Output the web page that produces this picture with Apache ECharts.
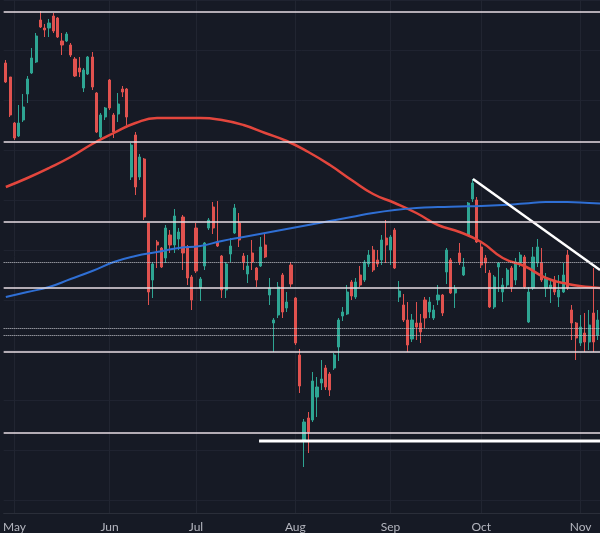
<!DOCTYPE html>
<html>
<head>
<meta charset="utf-8">
<script src="https://cdn.jsdelivr.net/npm/echarts/dist/echarts.min.js"></script>
<style>
  html, body { margin: 0; padding: 0; background: #161a25; }
  #chart { width: 600px; height: 533px; }
</style>
</head>
<body>
<div id="chart"></div>
<script>
// daily candles, Apr 29 .. Nov 7 (no session on May 27)
const opens = [
  93.7, 92.3, 87.7, 86.4, 88.0, 90.6, 92.7, 93.8, 98.0, 97.2,
  97.2, 98.4, 98.2, 95.9, 95.9, 95.5, 94.1, 93.2, 91.2, 92.6,
  94.3, 90.7, 86.3, 88.3, 92.0, 88.5, 88.6, 91.1, 91.1, 82.3,
  86.5, 82.3, 84.1, 77.7, 72.0, 75.8, 75.2, 74.2, 76.5, 75.5,
  76.1, 78.3, 75.3, 72.3, 77.2, 71.2, 73.4, 77.2, 79.3, 75.8,
  74.4, 71.0, 74.6, 76.7, 77.7, 74.4, 72.6, 74.7, 73.2, 73.4,
  75.5, 70.5, 67.7, 68.5, 72.5, 69.2, 73.5, 70.2, 64.5, 55.9,
  58.2, 58.0, 60.3, 61.7, 63.2, 62.6, 63.2, 65.3, 68.4, 68.6,
  71.8, 70.3, 72.5, 72.0, 73.6, 75.0, 74.0, 74.0, 76.2, 75.0,
  77.0, 70.3, 69.5, 68.0, 66.1, 67.7, 67.7, 70.0, 68.8, 68.2,
  70.0, 70.5, 72.8, 74.0, 70.7, 74.7, 72.5, 76.5, 80.1, 80.0,
  75.3, 74.2, 72.7, 69.3, 73.3, 70.8, 71.5, 73.2, 72.0, 73.7,
  74.3, 67.8, 71.2, 73.7, 73.7, 71.2, 71.2, 72.0, 70.3, 70.8,
  74.5, 69.0, 67.7, 65.7, 66.7, 65.8, 68.7, 66.5
];
const closes = [
  91.8, 88.5, 86.2, 87.7, 89.3, 92.1, 94.2, 96.4, 97.3, 97.0,
  97.7, 96.9, 96.3, 95.5, 96.6, 94.5, 92.4, 92.8, 93.0, 94.3,
  91.3, 86.8, 88.5, 89.2, 89.2, 86.8, 89.6, 90.8, 88.3, 85.5,
  81.3, 84.3, 78.3, 70.8, 73.6, 75.5, 73.3, 77.2, 75.5, 78.4,
  76.8, 74.7, 72.2, 70.0, 72.9, 72.1, 75.7, 78.0, 77.2, 75.4,
  71.0, 73.6, 75.4, 79.2, 76.0, 73.8, 73.4, 73.8, 72.0, 75.3,
  74.3, 71.2, 68.0, 71.3, 68.8, 69.8, 71.6, 65.7, 61.4, 57.8,
  56.8, 61.9, 61.3, 62.1, 61.3, 61.0, 64.5, 68.0, 68.8, 70.8,
  70.4, 71.8, 71.5, 73.8, 74.5, 73.0, 73.6, 76.0, 75.5, 76.3,
  73.2, 70.9, 68.0, 65.5, 68.0, 67.3, 66.8, 68.2, 69.8, 69.0,
  70.5, 68.7, 75.0, 70.7, 71.1, 73.8, 73.3, 79.7, 81.7, 75.8,
  73.5, 73.7, 69.3, 72.3, 73.7, 71.5, 73.0, 71.3, 73.8, 74.5,
  71.3, 70.8, 74.3, 75.3, 72.0, 72.2, 71.5, 70.8, 71.0, 72.5,
  71.2, 67.7, 66.2, 67.3, 65.8, 67.5, 65.8, 68.0
];
const lows = [
  91.7, 88.3, 86.0, 86.3, 87.8, 89.7, 92.6, 93.7, 97.2, 96.3,
  96.3, 96.7, 96.2, 94.5, 95.8, 94.3, 92.3, 92.3, 90.8, 92.5,
  91.0, 86.7, 86.2, 88.0, 89.0, 86.2, 87.8, 90.3, 87.5, 82.0,
  80.5, 82.0, 78.0, 69.5, 70.2, 73.2, 73.2, 73.7, 74.7, 74.7,
  75.0, 73.0, 71.5, 69.0, 72.7, 69.9, 73.0, 77.0, 76.6, 75.3,
  70.2, 70.2, 73.8, 76.6, 75.3, 73.0, 71.7, 73.0, 71.3, 73.3,
  74.2, 69.5, 64.8, 68.2, 68.2, 68.8, 71.3, 65.5, 60.7, 53.3,
  54.7, 57.8, 58.3, 61.0, 61.0, 60.4, 63.0, 63.9, 67.9, 68.5,
  70.0, 70.1, 71.3, 71.8, 73.3, 72.8, 73.3, 73.5, 73.7, 73.5,
  73.1, 69.8, 67.8, 64.8, 65.8, 66.0, 65.7, 67.2, 68.2, 68.0,
  69.5, 68.4, 71.6, 70.6, 69.2, 73.5, 72.4, 76.4, 79.8, 75.7,
  73.2, 72.7, 69.2, 69.1, 70.8, 69.8, 71.2, 70.8, 71.5, 73.3,
  71.1, 67.7, 71.0, 73.3, 71.8, 70.3, 69.7, 70.5, 69.3, 70.7,
  71.0, 66.0, 64.0, 65.4, 64.8, 65.0, 64.8, 66.0
];
const highs = [
  94.0, 92.3, 87.8, 89.5, 90.6, 92.4, 95.2, 96.7, 98.9, 97.6,
  98.1, 98.7, 98.3, 96.7, 96.8, 95.7, 94.3, 94.3, 93.2, 94.4,
  94.8, 90.8, 88.7, 89.3, 92.1, 88.7, 90.7, 91.4, 91.2, 85.7,
  86.8, 84.6, 84.2, 77.7, 73.8, 76.0, 75.3, 77.5, 77.0, 79.1,
  77.2, 78.5, 75.5, 72.5, 77.7, 72.3, 75.8, 78.2, 79.8, 79.9,
  74.5, 73.8, 76.2, 79.6, 78.7, 74.7, 74.5, 76.0, 73.3, 76.3,
  76.7, 72.2, 68.2, 71.8, 72.7, 70.8, 73.8, 70.3, 65.1, 58.1,
  58.8, 62.8, 62.3, 64.0, 63.5, 62.8, 64.7, 68.2, 69.3, 71.5,
  72.0, 72.2, 73.4, 74.0, 75.0, 75.4, 75.0, 76.5, 78.0, 76.5,
  77.2, 71.9, 70.6, 69.8, 68.6, 69.8, 68.6, 70.3, 70.3, 69.5,
  71.5, 70.6, 75.2, 74.2, 71.5, 75.7, 74.2, 79.8, 82.1, 80.3,
  75.7, 74.5, 73.0, 72.5, 73.8, 72.2, 73.2, 73.4, 74.2, 74.8,
  74.5, 71.3, 75.3, 76.1, 75.2, 72.7, 72.0, 72.4, 72.5, 73.7,
  75.0, 69.5, 67.8, 68.5, 68.7, 69.0, 73.2, 69.0
];

// moving averages, read every 5 sessions
const maIdx  = [0, 5, 10, 15, 20, 25, 30, 35, 40, 45, 50, 55, 60, 65, 70, 75, 80, 85, 90, 95, 100, 105, 110, 115, 120, 125, 130, 135, 137.5];
const maFast = [81.3, 82.2, 83.2, 84.3, 85.6, 86.7, 87.7, 88.2, 88.2, 88.2, 88.0, 87.5, 86.7, 85.9, 84.8, 83.5, 82.0, 80.6, 79.7, 78.7, 77.5, 76.8, 75.8, 74.2, 73.4, 72.2, 71.6, 71.3, 71.2];
const maSlow = [70.3, 70.8, 71.3, 72.1, 72.9, 73.8, 74.4, 74.8, 75.2, 75.4, 75.9, 76.3, 76.7, 77.1, 77.5, 77.9, 78.3, 78.7, 79.0, 79.2, 79.3, 79.35, 79.4, 79.5, 79.65, 79.8, 79.8, 79.7, 79.65];

// drawn levels
const levels = [98.8, 85.8, 77.8, 71.2, 64.8, 56.7];
const dottedLevels = [73.8, 67.2, 66.45];
const supportLine = [[59.1, 55.9], [138, 55.9]];
const trendLine = [[108.6, 82.1], [138, 73.0]];

const monthNames = ['Jan', 'Feb', 'Mar', 'Apr', 'May', 'Jun', 'Jul', 'Aug', 'Sep', 'Oct', 'Nov', 'Dec'];
const holidays = ['2024-05-27'];

const dates = [];
let d = new Date(Date.UTC(2024, 3, 29));
while (dates.length < opens.length) {
  const wd = d.getUTCDay();
  const s = d.toISOString().slice(0, 10);
  if (wd !== 0 && wd !== 6 && !holidays.includes(s)) dates.push(s);
  d.setUTCDate(d.getUTCDate() + 1);
}
const isMonthStart = (i) => i > 0 && dates[i].slice(5, 7) !== dates[i - 1].slice(5, 7);

const candles = opens.map((o, i) => [o, closes[i], lows[i], highs[i]]);

const myChart = echarts.init(document.getElementById('chart'));
myChart.setOption({
  backgroundColor: '#161a25',
  animation: false,
  grid: { left: 0, right: 0, top: 0, bottom: 20 },
  xAxis: [
    {
      type: 'category',
      data: dates,
      boundaryGap: true,
      axisLine: { show: true, lineStyle: { color: '#2a2e39', width: 1 } },
      axisTick: { show: false },
      axisLabel: {
        interval: (i) => isMonthStart(i),
        formatter: (v) => monthNames[+v.slice(5, 7) - 1],
        color: '#b4b6bf',
        fontSize: 12,
        fontFamily: 'Lato',
        margin: 8,
      },
      splitLine: {
        show: true,
        interval: (i) => isMonthStart(i),
        alignWithLabel: true,
        lineStyle: { color: '#212531', width: 1 },
      },
    },
    { type: 'value', min: 0, max: opens.length, show: false },
  ],
  yAxis: {
    type: 'value',
    min: 48.7,
    max: 100,
    splitNumber: 12,
    axisLabel: { show: false },
    axisLine: { show: false },
    axisTick: { show: false },
    splitLine: { show: true, lineStyle: { color: '#1f2330', width: 1 } },
  },
  series: [
    {
      type: 'candlestick',
      data: candles,
      barWidth: 2.6,
      z: 2,
      itemStyle: {
        color: '#2ea593',
        color0: '#e0524f',
        borderColor: '#2ea593',
        borderColor0: '#e0524f',
        borderWidth: 1,
      },
      markLine: {
        silent: true,
        symbol: ['none', 'none'],
        label: { show: false },
        data: levels.map((v) => ({ yAxis: v, lineStyle: { color: '#e9dee5', width: 1.5, type: 'solid' } }))
          .concat(dottedLevels.map((v) => ({ yAxis: v, lineStyle: { color: '#c9cad1', width: 1, type: 'dotted' } }))),
      },
    },
    {
      type: 'line',
      xAxisIndex: 1,
      data: maIdx.map((k, i) => [k + 0.5, maFast[i]]),
      smooth: true,
      symbol: 'none',
      z: 3,
      lineStyle: { color: '#e3463d', width: 2.5 },
    },
    {
      type: 'line',
      xAxisIndex: 1,
      data: maIdx.map((k, i) => [k + 0.5, maSlow[i]]),
      smooth: true,
      symbol: 'none',
      z: 3,
      lineStyle: { color: '#2f6fd4', width: 2 },
    },
    {
      type: 'line',
      xAxisIndex: 1,
      data: supportLine,
      symbol: 'none',
      z: 4,
      lineStyle: { color: '#ffffff', width: 3 },
    },
    {
      type: 'line',
      xAxisIndex: 1,
      data: trendLine,
      symbol: 'none',
      z: 4,
      lineStyle: { color: '#ffffff', width: 2.5 },
    },
  ],
});
</script>
</body>
</html>
